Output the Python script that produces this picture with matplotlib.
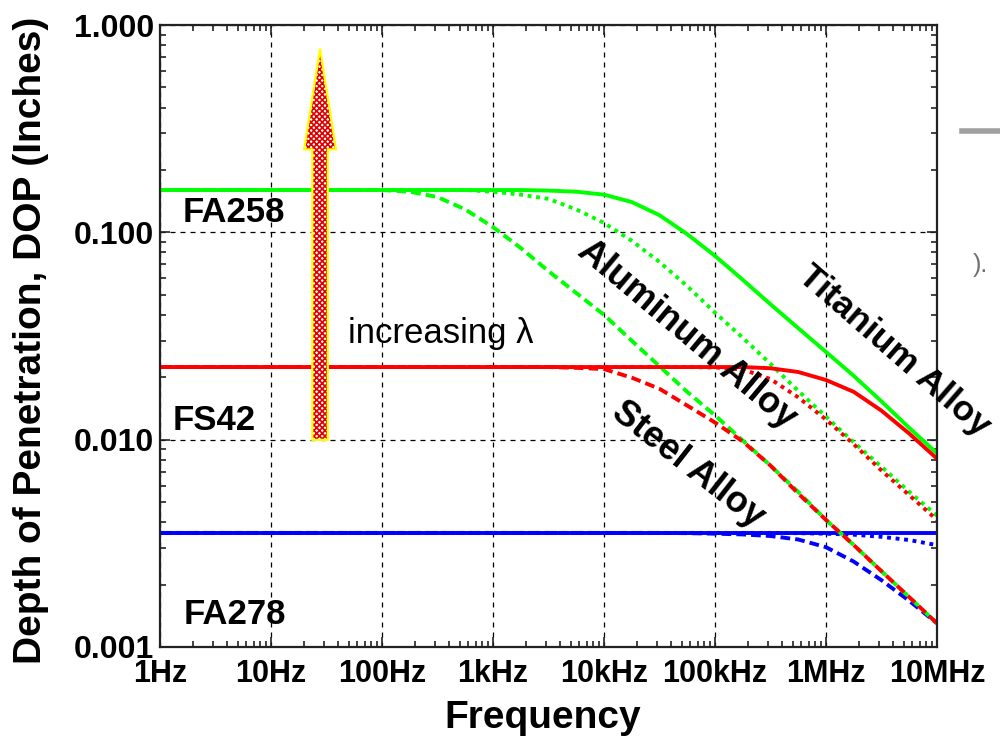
import matplotlib
matplotlib.use("Agg")
import matplotlib.pyplot as plt
from matplotlib.patches import Polygon
from matplotlib.lines import Line2D
from matplotlib.ticker import LogLocator, NullFormatter, FixedLocator, FixedFormatter

plt.rcParams['font.family'] = ['Liberation Sans', 'DejaVu Sans']
plt.rcParams['hatch.linewidth'] = 1.2

# frequency samples (Hz), quarter decades from 100 Hz up
freq_hz = [1, 10, 100, 178, 316, 562, 1000, 1780, 3160, 5620,
           1e4, 1.78e4, 3.16e4, 5.62e4, 1e5, 1.78e5, 3.16e5, 5.62e5,
           1e6, 1.78e6, 3.16e6, 5.62e6, 1e7]

# FA258 (green)
fa258_ti = [0.160, 0.160, 0.160, 0.160, 0.160, 0.160, 0.160, 0.160, 0.159, 0.157,
            0.152, 0.140, 0.121, 0.098, 0.077, 0.059, 0.045, 0.0345,
            0.0265, 0.0203, 0.0153, 0.0114, 0.0086]
fa258_al = [0.160, 0.160, 0.160, 0.160, 0.160, 0.160, 0.157, 0.152, 0.145, 0.129,
            0.111, 0.091, 0.072, 0.055, 0.041, 0.031, 0.0232, 0.0172,
            0.0129, 0.0097, 0.0074, 0.0056, 0.0043]
fa258_st = [0.160, 0.160, 0.160, 0.157, 0.148, 0.129, 0.106, 0.084, 0.065, 0.051,
            0.040, 0.030, 0.0226, 0.0170, 0.0131, 0.0099, 0.0075, 0.0056,
            0.0041, 0.0031, 0.00232, 0.00174, 0.0013]

# FS42 (red)
fs42_ti = [0.0224, 0.0224, 0.0224, 0.0224, 0.0224, 0.0224, 0.0224, 0.0224, 0.0224, 0.0224,
           0.0224, 0.0224, 0.0224, 0.0224, 0.0224, 0.0224, 0.0221, 0.0212,
           0.0194, 0.0170, 0.0138, 0.0107, 0.0081]
fs42_al = [0.0224, 0.0224, 0.0224, 0.0224, 0.0224, 0.0224, 0.0224, 0.0224, 0.0224, 0.0224,
           0.0224, 0.0224, 0.0224, 0.0224, 0.0223, 0.0218, 0.0196, 0.0160,
           0.0125, 0.0095, 0.0071, 0.0054, 0.0041]
fs42_st = [0.0224, 0.0224, 0.0224, 0.0224, 0.0224, 0.0224, 0.0224, 0.0224, 0.0224, 0.0222,
           0.0219, 0.0199, 0.0176, 0.0146, 0.0121, 0.0098, 0.0075, 0.0055,
           0.0041, 0.0031, 0.00232, 0.00174, 0.0013]

# FA278 (blue)
fa278_ti = [0.00355] * 23
fa278_al = [0.00355, 0.00355, 0.00355, 0.00355, 0.00355, 0.00355, 0.00355, 0.00355, 0.00355, 0.00355,
            0.00355, 0.00355, 0.00355, 0.00355, 0.00355, 0.00355, 0.00355, 0.00354,
            0.00352, 0.00348, 0.00340, 0.00328, 0.0031]
fa278_st = [0.00355, 0.00355, 0.00355, 0.00355, 0.00355, 0.00355, 0.00355, 0.00355, 0.00355, 0.00355,
            0.00355, 0.00355, 0.00355, 0.00354, 0.00352, 0.00349, 0.00343, 0.00330,
            0.00303, 0.00258, 0.00210, 0.00167, 0.00130]

x_ticks = [1, 10, 100, 1e3, 1e4, 1e5, 1e6, 1e7]
x_labels = ["1Hz", "10Hz", "100Hz", "1kHz", "10kHz", "100kHz", "1MHz", "10MHz"]
y_ticks = [0.001, 0.01, 0.1, 1.0]
y_labels = ["0.001", "0.010", "0.100", "1.000"]

fig = plt.figure(figsize=(10, 7.49), dpi=100)
ax = fig.add_axes([0.16, 0.1362, 0.777, 0.8304])
ax.set_xscale('log')
ax.set_yscale('log')
ax.set_xlim(1, 1e7)
ax.set_ylim(0.001, 1.0)

lw = 2.8
dash = (0, (2.5, 1.3))
dot = (0, (1.0, 1.2))
blue, red, green = '#0000ff', '#ff0000', '#00ff00'

ax.plot(freq_hz, fa278_al, color=blue, lw=lw, ls=dot)
ax.plot(freq_hz, fa278_st, color=blue, lw=lw, ls=dash)
ax.plot(freq_hz, fa278_ti, color=blue, lw=lw)
ax.plot(freq_hz, fa258_al, color=green, lw=lw, ls=dot)
ax.plot(freq_hz, fa258_st, color=green, lw=lw, ls=dash)
ax.plot(freq_hz, fa258_ti, color=green, lw=lw)
ax.plot(freq_hz, fs42_al, color=red, lw=lw, ls=dot)
ax.plot(freq_hz, fs42_st, color=red, lw=lw, ls=dash)
ax.plot(freq_hz, fs42_ti, color=red, lw=lw)

# ticks and grid
ax.xaxis.set_major_locator(FixedLocator(x_ticks))
ax.xaxis.set_major_formatter(FixedFormatter(x_labels))
ax.xaxis.set_minor_locator(LogLocator(base=10, subs=range(2, 10), numticks=20))
ax.xaxis.set_minor_formatter(NullFormatter())
ax.yaxis.set_major_locator(FixedLocator(y_ticks))
ax.yaxis.set_major_formatter(FixedFormatter(y_labels))
ax.yaxis.set_minor_locator(LogLocator(base=10, subs=range(2, 10), numticks=20))
ax.yaxis.set_minor_formatter(NullFormatter())
ax.tick_params(which='both', direction='in', top=True, right=True, width=1.2, color='#222222')
ax.tick_params(which='major', length=7)
ax.tick_params(which='minor', length=4)
ax.tick_params(axis='x', which='major', pad=9)
ax.tick_params(axis='y', which='major', pad=4)
for lab in ax.get_xticklabels():
    lab.set_fontweight('bold')
    lab.set_fontsize(22)
for lab in ax.get_yticklabels():
    lab.set_fontweight('bold')
    lab.set_fontsize(23)
ax.grid(True, which='major', color='black', ls=(0, (4, 4)), lw=0.9)
for s in ax.spines.values():
    s.set_linewidth(1.6)
    s.set_color('#222222')

# arrow "increasing lambda"
xc, hw, hh = 0.206, 0.0100, 0.0205
y0, yb, yt = 0.333, 0.800, 0.962
pts = [(xc - hw, y0), (xc + hw, y0), (xc + hw, yb), (xc + hh, yb), (xc, yt),
       (xc - hh, yb), (xc - hw, yb)]
ax.add_patch(Polygon(pts, closed=True, transform=ax.transAxes, facecolor='white',
                     edgecolor='#e00000', hatch='xxxxxx', lw=0, zorder=5))
ax.add_patch(Polygon(pts, closed=True, transform=ax.transAxes, fill=False,
                     edgecolor='#ffff00', lw=1.6, zorder=6))

# labels
ax.text(1.61, 0.124, "FA258", fontsize=25, fontweight='bold', ha='left', va='center', zorder=7)
ax.text(1.31, 0.0124, "FS42", fontsize=25, fontweight='bold', ha='left', va='center', zorder=7)
ax.text(1.64, 0.00144, "FA278", fontsize=25, fontweight='bold', ha='left', va='center', zorder=7)
ax.text(49.4, 0.0292, "increasing \u03bb", fontsize=25, ha='left', va='baseline', zorder=7)
ax.text(5.6e4, 0.0320, "Aluminum Alloy", fontsize=26, fontweight='bold', rotation=-40,
        rotation_mode='anchor', ha='center', va='center', zorder=7)
ax.text(4.1e6, 0.0268, "Titanium Alloy", fontsize=25.5, fontweight='bold', rotation=-41,
        rotation_mode='anchor', ha='center', va='center', zorder=7, clip_on=False)
ax.text(5.71e4, 0.00754, "Steel Alloy", fontsize=26, fontweight='bold', rotation=-38,
        rotation_mode='anchor', ha='center', va='center', zorder=7)

fig.text(0.031, 0.546, "Depth of Penetration, DOP (Inches)", rotation=90, fontsize=28,
         fontweight='bold', ha='center', va='center')
fig.text(0.543, 0.041, "Frequency", fontsize=28, fontweight='bold', ha='center', va='center')

# screenshot leftovers on the right edge
fig.add_artist(Line2D([0.962, 1.0], [0.825, 0.825], color='#a0a0a0', lw=4))
fig.text(0.973, 0.646, ").", fontsize=18, color='#707070', ha='left', va='center')

fig.savefig("out.png", dpi=100)
